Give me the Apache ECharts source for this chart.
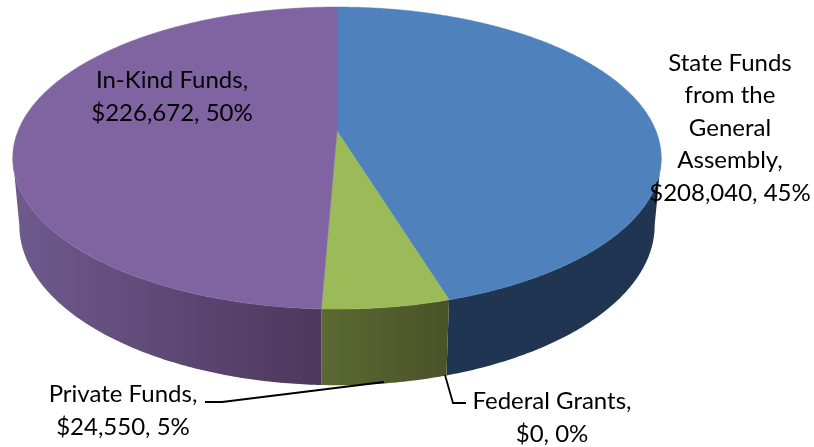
<!DOCTYPE html>
<html>
<head>
<meta charset="utf-8">
<style>html,body{margin:0;padding:0;background:#fff}#c{width:814px;height:447px}</style>
<script src="https://cdn.jsdelivr.net/npm/echarts@6/dist/echarts.min.js"></script>
</head>
<body>
<div id="c"></div>
<script>
// Data
const categories = ["State Funds\nfrom the\nGeneral\nAssembly,", "Federal Grants,", "Private Funds,", "In-Kind Funds,"];
const values = [208040, 0, 24550, 226672];
const percentLabels = ["45%", "0%", "5%", "50%"];

// Style
const topColors = ["#4f81bd", "#c0504d", "#9bbb59", "#8064a2"];
const wallColors = [["#1f3552", "#1f3552"], ["#000", "#000"], ["#5a6a32", "#4a5228"], ["#6f5a8e", "#4d375c"]];
// Layout
const labelCenters = [[730, 128], [552, 418], [123, 411], [172, 97]];
const leaders = [null, [[445, 375], [453, 403], [466, 403]], [[205, 402], [222, 402], [384, 382]], null];
const P = {cx: 337, y0: 131, a: 319, b: 146.2, k: 0.179, m: 0.02, c: 67.6};

const total = values.reduce((s, v) => s + v, 0);
const money = v => "$" + v.toLocaleString("en-US");
function project(theta, z) {
  const u = Math.sin(theta), v = Math.cos(theta);
  const d = 1 + P.k * v + P.m * z;
  return [P.cx + P.a * u / d, P.y0 + (P.c * z - P.b * v) / d];
}
function arc(t0, t1, z) {
  const n = Math.max(2, Math.ceil(Math.abs(t1 - t0) / 0.01));
  const pts = [];
  for (let i = 0; i <= n; i++) pts.push(project(t0 + (t1 - t0) * i / n, z));
  return pts;
}
const WALL0 = 100 * Math.PI / 180, WALL1 = 260 * Math.PI / 180;

function renderItem(params, api) {
  const i = params.dataIndex;
  let cum = 0;
  for (let j = 0; j < i; j++) cum += values[j];
  const t0 = cum / total * 2 * Math.PI;
  const t1 = (cum + api.value(0)) / total * 2 * Math.PI;
  const children = [];
  if (t1 > t0) {
    const a = Math.max(t0, WALL0), b = Math.min(t1, WALL1);
    if (b > a) {
      const top = arc(a, b, 0), bot = arc(a, b, 1).reverse();
      const pts = top.concat(bot);
      const xs = pts.map(p => p[0]);
      const x0 = Math.min(...xs), x1 = Math.max(...xs);
      children.push({
        type: "polygon", z2: 1, shape: {points: pts},
        style: {
          fill: new echarts.graphic.LinearGradient(x0, 0, x1, 0,
            [{offset: 0, color: wallColors[i][0]}, {offset: 1, color: wallColors[i][1]}], true),
          stroke: null
        }
      });
    }
    const sector = [[P.cx, P.y0]].concat(arc(t0, t1, 0));
    children.push({
      type: "polygon", z2: 2, shape: {points: sector},
      style: {fill: topColors[i], stroke: topColors[i], lineWidth: 0.5}
    });
  }
  if (leaders[i]) {
    children.push({
      type: "polyline", z2: 3, shape: {points: leaders[i]},
      style: {stroke: "#000", lineWidth: 1.8, fill: null}
    });
  }
  children.push({
    type: "text", z2: 4, x: labelCenters[i][0], y: labelCenters[i][1],
    style: {
      text: categories[i] + "\n" + money(api.value(0)) + ", " + percentLabels[i],
      fill: "#000", font: '24px Lato, "Open Sans", sans-serif', lineHeight: 32.5,
      align: "center", verticalAlign: "middle"
    }
  });
  return {type: "group", children};
}

const chart = echarts.init(document.getElementById("c"), null, {renderer: "canvas"});
chart.setOption({
  animation: false,
  backgroundColor: "#fff",
  series: [{
    type: "custom",
    coordinateSystem: "none",
    renderItem,
    data: values.map(v => [v])
  }]
});
</script>
</body>
</html>
